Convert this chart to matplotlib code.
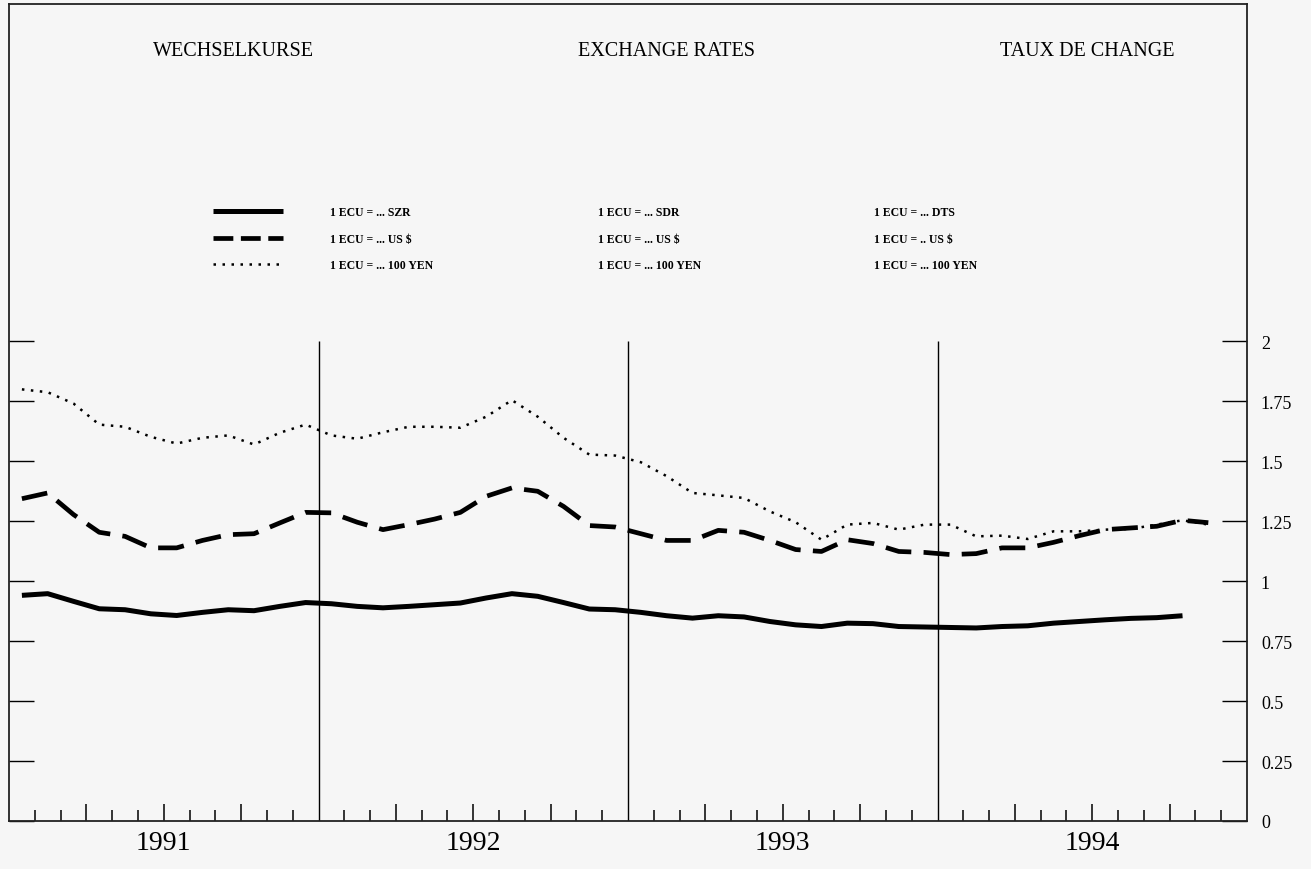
import numpy as np
import pandas as pd
import matplotlib
matplotlib.use("Agg")
import matplotlib.pyplot as plt
from matplotlib.lines import Line2D
from matplotlib.ticker import FixedLocator, NullFormatter

# ---------------- data ----------------
months = pd.date_range("1991-01-01", "1994-11-01", freq="MS")

sdr = [0.941, 0.948, 0.916, 0.885, 0.881, 0.864, 0.857, 0.870, 0.881, 0.877, 0.895, 0.911,
       0.906, 0.895, 0.889, 0.895, 0.902, 0.909, 0.930, 0.948, 0.937, 0.911, 0.884, 0.881,
       0.870, 0.856, 0.846, 0.856, 0.851, 0.832, 0.818, 0.811, 0.825, 0.823, 0.811, 0.809,
       0.807, 0.805, 0.811, 0.814, 0.825, 0.832, 0.839, 0.845, 0.848, 0.856]

usd = [1.344, 1.368, 1.278, 1.204, 1.187, 1.139, 1.139, 1.170, 1.194, 1.198, 1.243, 1.287,
       1.285, 1.246, 1.215, 1.236, 1.259, 1.287, 1.354, 1.389, 1.375, 1.312, 1.232, 1.226,
       1.198, 1.170, 1.170, 1.212, 1.204, 1.170, 1.132, 1.124, 1.173, 1.157, 1.124, 1.120,
       1.111, 1.115, 1.139, 1.139, 1.162, 1.190, 1.215, 1.222, 1.229, 1.254, 1.244]

yen = [1.800, 1.788, 1.741, 1.653, 1.644, 1.602, 1.574, 1.598, 1.608, 1.570, 1.619, 1.653,
       1.608, 1.594, 1.621, 1.644, 1.644, 1.640, 1.686, 1.755, 1.686, 1.598, 1.528, 1.524,
       1.496, 1.438, 1.368, 1.358, 1.347, 1.291, 1.246, 1.173, 1.236, 1.243, 1.215, 1.236,
       1.236, 1.187, 1.190, 1.176, 1.208, 1.208, 1.215, 1.218, 1.236, 1.254, 1.236]

years = [1991, 1992, 1993, 1994]
y_ticks = [0, 0.25, 0.5, 0.75, 1, 1.25, 1.5, 1.75, 2]
y_ticklabels = ["0", "0.25", "0.5", "0.75", "1", "1.25", "1.5", "1.75", "2"]

titles = ["WECHSELKURSE", "EXCHANGE RATES", "TAUX DE CHANGE"]
legend_de = ["1 ECU = ... SZR", "1 ECU = ... US $", "1 ECU = ... 100 YEN"]
legend_en = ["1 ECU = ... SDR", "1 ECU = ... US $", "1 ECU = ... 100 YEN"]
legend_fr = ["1 ECU = ... DTS", "1 ECU = .. US $", "1 ECU = ... 100 YEN"]

# decimal-year positions (mid-month)
xdec = np.array([d.year + (d.month - 0.5) / 12 for d in months])

# ---------------- figure ----------------
W, H = 1311, 870
bg = "#f6f6f6"
fig = plt.figure(figsize=(W / 100, H / 100), dpi=100, facecolor=bg)
serif = ["Liberation Serif", "DejaVu Serif"]

def fx(px):
    return px / W

def fy(py):
    return 1 - py / H

ax = fig.add_axes([fx(9), fy(822), fx(1247) - fx(9), fy(5) - fy(822)])
ax.set_facecolor(bg)
ax.set_xlim(1991, 1995)
ax.set_ylim(0, 3.407)

n_s = len(sdr)
n_u = len(usd)
n_y = len(yen)
ax.plot(xdec[:n_s], sdr, color="black", lw=3.6, solid_capstyle="butt",
        solid_joinstyle="round")
ax.plot(xdec[:n_u], usd, color="black", lw=3.4, dashes=(5.5, 2.6),
        dash_capstyle="butt")
ax.plot(xdec[:n_y], yen, color="black", lw=1.8, dashes=(1.0, 2.6),
        dash_capstyle="butt")

# year separator lines
ax.vlines(years[1:], 0, 2, color="black", lw=1.0)

# spines
for s in ax.spines.values():
    s.set_linewidth(1.3)
    s.set_color("#222222")

# x ticks: monthly, longer at quarters
quarter_ticks = [y + q / 12 for y in years for q in (3, 6, 9)]
month_ticks = [y + m / 12 for y in years for m in range(1, 12) if m not in (3, 6, 9)]
ax.xaxis.set_major_locator(FixedLocator(quarter_ticks))
ax.xaxis.set_minor_locator(FixedLocator(month_ticks))
ax.xaxis.set_major_formatter(NullFormatter())
ax.tick_params(axis="x", which="major", direction="in", length=12.5, width=1.1,
               bottom=True, top=False)
ax.tick_params(axis="x", which="minor", direction="in", length=8, width=1.1,
               bottom=True, top=False)

# y ticks
ax.set_yticks(y_ticks)
ax.set_yticklabels(y_ticklabels, fontfamily=serif, fontsize=13)
ax.tick_params(axis="y", which="major", direction="in", length=18, width=1.0,
               left=True, right=True, labelleft=False, labelright=True, pad=10)

# year labels
for y in years:
    ax.text(y + 0.5, -0.09, str(y), ha="center", va="center", fontsize=20,
            family=serif, transform=ax.transData, clip_on=False)

# titles
title_x = [233, 667, 1087]
for t, x in zip(titles, title_x):
    fig.text(fx(x), fy(52), t, ha="center", va="center", fontsize=14.5,
             family=serif)

# legend samples
leg_y = [212, 239, 265]
styles = [dict(lw=3.6), dict(lw=3.4, dashes=(4.2, 1.6)), dict(lw=1.8, dashes=(1.0, 2.6))]
for yy, st in zip(leg_y, styles):
    fig.add_artist(Line2D([fx(213), fx(283)], [fy(yy), fy(yy)], color="black",
                          solid_capstyle="butt", dash_capstyle="butt", **st))

col_x = [330, 598, 874]
for cx, labels in zip(col_x, [legend_de, legend_en, legend_fr]):
    for yy, lab in zip(leg_y, labels):
        fig.text(fx(cx), fy(yy + 1), lab, ha="left", va="center", fontsize=8.5,
                 fontweight="bold", family=serif)

fig.savefig("out.png", dpi=100, facecolor=bg)
